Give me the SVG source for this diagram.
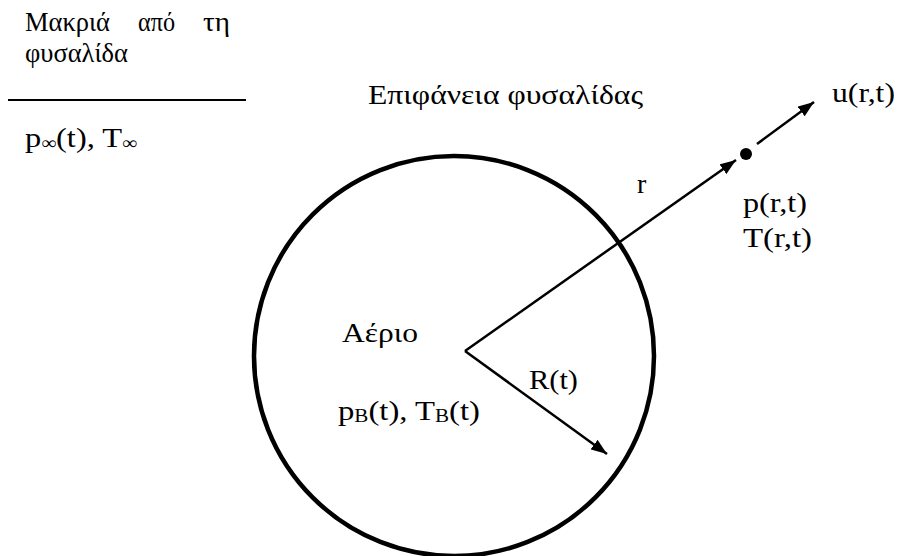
<svg xmlns="http://www.w3.org/2000/svg" width="897" height="556" viewBox="0 0 897 556">
<style>
text{font-family:"Liberation Serif","Times New Roman","DejaVu Serif",serif;font-size:28px;fill:#000}
.sub{font-size:18px}
.ln{stroke:#000;stroke-width:2.5;fill:none}
</style>
<defs>
<marker id="ah" viewBox="0 0 16 12" refX="16" refY="6" markerWidth="16" markerHeight="12" markerUnits="userSpaceOnUse" orient="auto">
<path d="M0,0 L16,6 L0,12 z" fill="#000"/>
</marker>
</defs>
<rect width="897" height="556" fill="#fff"/>
<g id="far-field">
<text x="25" y="31" textLength="85" lengthAdjust="spacingAndGlyphs">Μακριά</text>
<text x="138" y="31" textLength="37" lengthAdjust="spacingAndGlyphs">από</text>
<text x="203" y="31" textLength="27" lengthAdjust="spacingAndGlyphs">τη</text>
<text x="25" y="62" textLength="103" lengthAdjust="spacingAndGlyphs">φυσαλίδα</text>
<line x1="8" y1="100" x2="246" y2="100" stroke="#000" stroke-width="2"/>
<text x="25" y="147" textLength="112" lengthAdjust="spacingAndGlyphs">p<tspan class="sub" dy="2">∞</tspan><tspan dy="-2">(t), T</tspan><tspan class="sub" dy="2">∞</tspan></text>
</g>
<g id="surface-label">
<text x="368" y="104" textLength="275" lengthAdjust="spacingAndGlyphs">Επιφάνεια φυσαλίδας</text>
</g>
<g id="bubble">
<circle cx="454" cy="356" r="200" fill="none" stroke="#000" stroke-width="4.5"/>
<text x="342" y="342" textLength="76" lengthAdjust="spacingAndGlyphs">Αέριο</text>
<text x="338" y="420" textLength="142" lengthAdjust="spacingAndGlyphs">p<tspan class="sub" dy="2">B</tspan><tspan dy="-2">(t), T</tspan><tspan class="sub" dy="2">B</tspan><tspan dy="-2">(t)</tspan></text>
</g>
<g id="point">
<circle cx="746" cy="154" r="6" fill="#000"/>
<text x="743" y="212" textLength="64" lengthAdjust="spacingAndGlyphs">p(r,t)</text>
<text x="743" y="247" textLength="69" lengthAdjust="spacingAndGlyphs">T(r,t)</text>
<text x="832" y="102" textLength="63" lengthAdjust="spacingAndGlyphs">u(r,t)</text>
</g>
<g id="connectors">
<line class="ln" x1="465" y1="351" x2="736" y2="160" marker-end="url(#ah)"/>
<line class="ln" x1="465" y1="351" x2="607" y2="454" marker-end="url(#ah)"/>
<line class="ln" x1="757" y1="144" x2="814" y2="102" marker-end="url(#ah)"/>
<text x="637" y="193">r</text>
<text x="529" y="389" textLength="49" lengthAdjust="spacingAndGlyphs">R(t)</text>
</g>
</svg>
